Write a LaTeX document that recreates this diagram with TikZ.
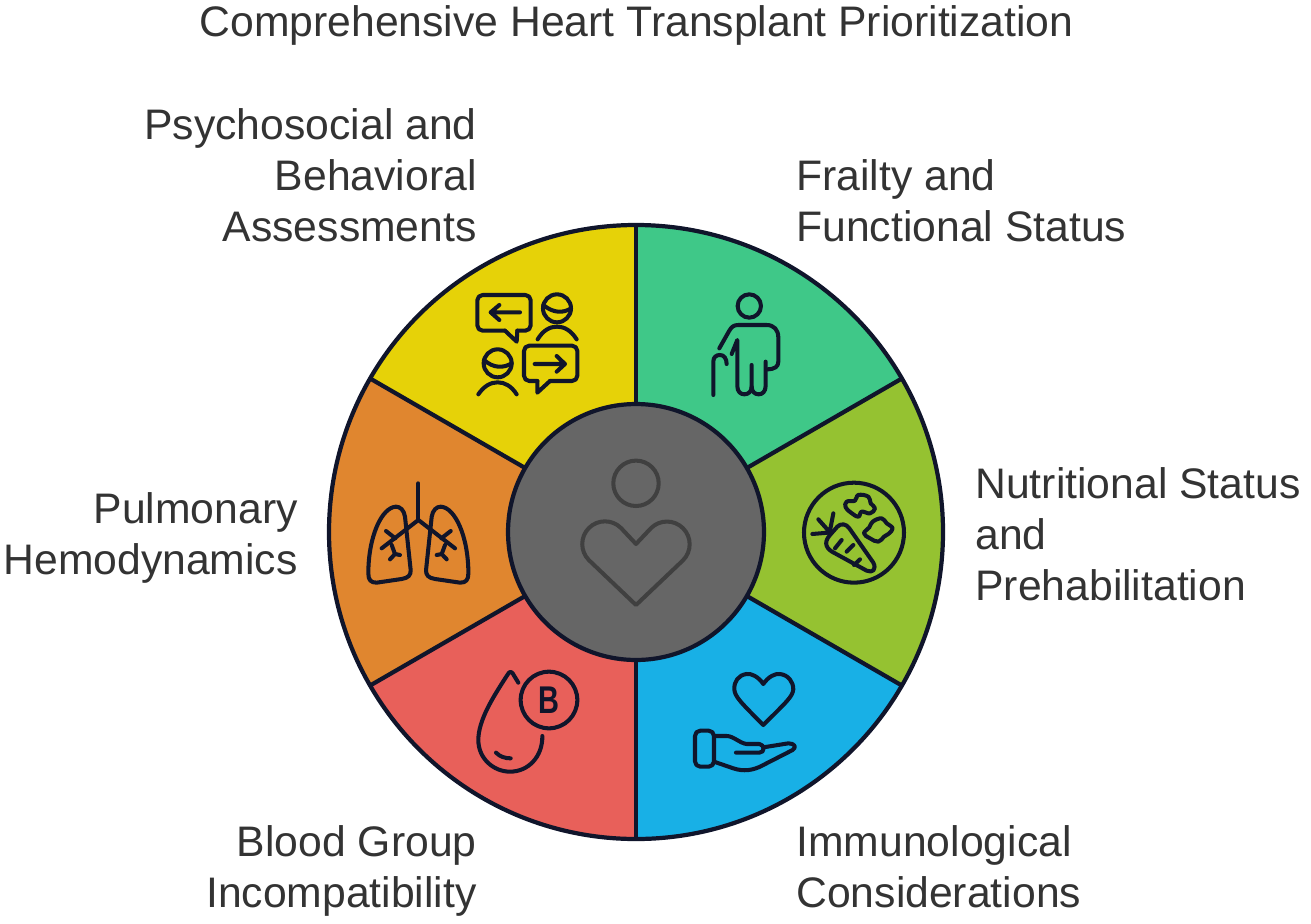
\documentclass[tikz,border=0pt]{standalone}
\usepackage{fontspec}
\setmainfont{Liberation Sans}
\definecolor{inkc}{HTML}{10152B}
\definecolor{textc}{HTML}{333333}
\definecolor{hubc}{HTML}{666666}
\definecolor{yellowc}{HTML}{E6D208}
\definecolor{greenc}{HTML}{3FC888}
\definecolor{limec}{HTML}{95C231}
\definecolor{bluec}{HTML}{18B0E6}
\definecolor{redc}{HTML}{E8605A}
\definecolor{orangec}{HTML}{E0862F}
\newcommand{\lunghalf}{%
  \draw[icon] (165,200) .. controls (162,180) and (150,170) .. (138,170)
    .. controls (95,172) and (55,260) .. (55,370) .. controls (55,390) and (62,398) .. (80,398)
    -- (155,387) .. controls (175,384) and (183,375) .. (182,360) -- cycle;
  \draw[icon] (205,210) -- (95,295);
  \draw[icon] (108,243) -- (136,265);
  \draw[icon] (125,285) -- (135,312) -- (120,328) (135,312) -- (150,315);}
\begin{document}
\begin{tikzpicture}[x=0.02cm,y=-0.02cm,
  every node/.style = {text=textc, inner sep=0pt, font=\fontsize{24.3}{29}\selectfont},
  icon/.style = {draw=inkc, line width=2.3pt, line cap=round, line join=round},
  toleft/.style = {align=left, anchor=west},
  toright/.style = {align=right, anchor=east},
  zoomed/.style = {shift={#1}, scale=0.3333}]
  \useasboundingbox (0,0) rectangle (1311,923);
  \coordinate (c) at (636,532);
  % sectors
  \foreach \ang/\col in {-90/greenc, -30/limec, 30/bluec, 90/redc, 150/orangec, 210/yellowc}
    \fill[\col] (c) -- ++(\ang:307) arc (\ang:\ang+60:307) -- cycle;
  \foreach \ang in {-90, -30, 30, 90, 150, 210}
    \draw[inkc, line width=2.4pt] (c) -- ++(\ang:307);
  \draw[inkc, line width=2.4pt] (c) circle (307);
  \node (hub) [circle, draw=inkc, line width=2.4pt, fill=hubc, minimum size=5.12cm] at (c) {};
  % hub icon
  \draw[icon, draw=black!75] (636,483.3) circle (22.7);
  \draw[icon, draw=black!75] (636,544) -- (621,528) arc (-45:-225:22.7)
    -- (636,605) -- (683,560.3) arc (45:-135:22.7) -- cycle;
  % people talking
  \begin{scope}[zoomed={(460,280)}]
    \draw[icon, rounded corners=3pt] (135,152) -- (52,152) -- (52,45) -- (212,45) -- (212,152) -- (172,152);
    \draw[icon] (135,152) -- (170,185) -- (172,152);
    \draw[icon] (180,97) -- (92,97) (118,75) -- (92,97) -- (118,120);
    \draw[icon] (291,85) circle (42);
    \draw[icon] (250,75) .. controls (280,100) and (310,100) .. (333,85);
    \draw[icon] (233,178) .. controls (250,150) and (270,140) .. (291,140) .. controls (312,140) and (332,150) .. (350,178);
    \draw[icon] (113,250) circle (42);
    \draw[icon] (72,240) .. controls (100,265) and (130,265) .. (155,250);
    \draw[icon] (55,343) .. controls (72,318) and (92,307) .. (113,307) .. controls (134,307) and (154,318) .. (170,343);
    \draw[icon, rounded corners=3pt] (232,303) -- (192,303) -- (192,197) -- (352,197) -- (352,303) -- (270,303);
    \draw[icon] (232,303) -- (232,338) -- (270,303);
    \draw[icon] (224,252) -- (315,252) (290,228) -- (315,252) -- (290,275);
    % person with cane
    \draw[icon] (868,78) circle (35);
    \draw[icon] (778,205) -- (808,152) .. controls (815,140) and (822,135) .. (835,135) -- (920,135)
      .. controls (942,135) and (955,150) .. (955,172) -- (955,245) .. controls (955,260) and (945,268) .. (920,268);
    \draw[icon] (815,222) -- (832,180) -- (832,318) .. controls (832,335) and (842,343) .. (853,343)
      .. controls (865,343) and (875,335) .. (875,320) -- (875,255);
    \draw[icon] (875,320) .. controls (875,335) and (885,343) .. (896,343) .. controls (907,343) and (917,335) .. (917,318) -- (917,245);
    \draw[icon] (760,345) -- (760,245) .. controls (760,230) and (770,225) .. (780,225) .. controls (792,225) and (800,235) .. (800,252);
  \end{scope}
  % lungs
  \begin{scope}[zoomed={(350,450)}]
    \lunghalf
    \draw[icon] (205,100) -- (205,210);
  \end{scope}
  \begin{scope}[shift={(836.7,0)}, xscale=-1]
    \begin{scope}[zoomed={(350,450)}]
      \lunghalf
    \end{scope}
  \end{scope}
  % carrot plate
  \begin{scope}[zoomed={(780,470)}]
    \draw[icon] (222,188) circle (150);
    \draw[icon] (150,195) -- (172,170) .. controls (182,160) and (198,160) .. (208,175) -- (280,278)
      .. controls (290,298) and (278,310) .. (260,302) -- (165,250) .. controls (140,238) and (128,220) .. (150,195);
    \draw[icon] (148,185) -- (115,148) (145,188) -- (97,192) (160,130) -- (150,182);
    \draw[icon] (185,210) -- (165,235) (220,225) -- (200,245) (240,268) -- (222,285);
    \draw[icon] plot[smooth cycle, tension=0.7] coordinates {(200,95) (225,92) (235,75) (265,80) (272,100) (285,115) (270,130) (245,125) (235,140) (213,128) (197,112)};
    \draw[icon] plot[smooth cycle, tension=0.7] coordinates {(252,190) (268,172) (278,155) (305,145) (320,160) (338,175) (325,192) (312,200) (295,215) (270,205)};
  \end{scope}
  % drop and hand
  \begin{scope}[zoomed={(470,660)}]
    \draw[icon] (145,68) -- (128,40) .. controls (122,33) and (118,35) .. (112,45)
      .. controls (70,110) and (25,180) .. (25,240) .. controls (25,295) and (70,335) .. (120,335)
      .. controls (175,335) and (218,290) .. (217,228);
    \draw[icon] (78,278) .. controls (90,290) and (105,295) .. (122,295);
    \draw[icon] (237,120) circle (85);
    \node (btype) at (237,122) [text=inkc, font=\fontsize{22}{22}\selectfont\bfseries] {\scalebox{0.75}[1]{B}};
    \draw[icon] (880,72) .. controls (865,50) and (845,40) .. (830,42) .. controls (805,45) and (792,65) .. (793,88)
      .. controls (795,110) and (810,125) .. (880,195) .. controls (950,125) and (968,110) .. (970,88)
      .. controls (970,65) and (955,45) .. (930,42) .. controls (915,40) and (895,50) .. (880,72) -- cycle;
    \draw[icon, rounded corners=3pt] (675,212) rectangle (732,320);
    \draw[icon] (732,228) -- (770,228) .. controls (790,228) and (810,250) .. (830,252) -- (868,252)
      .. controls (885,254) and (885,278) .. (868,278) -- (798,278);
    \draw[icon] (880,262) -- (955,250) .. controls (975,250) and (980,262) .. (968,270)
      -- (880,315) .. controls (850,332) and (820,335) .. (790,325) -- (732,305);
  \end{scope}
  % labels
  \node (title) at (636.5,25) {Comprehensive Heart Transplant Prioritization};
  \node (psycho) [toright] at (477,175) {Psychosocial and\\Behavioral\\Assessments};
  \node (frailty) [toleft] at (796,201) {Frailty and\\Functional Status};
  \node (nutrition) [toleft] at (975,534) {Nutritional Status\\and\\Prehabilitation};
  \node (immuno) [toleft] at (796,867) {Immunological\\Considerations};
  \node (blood) [toright] at (477,871) {Blood Group\\Incompatibility};
  \node (pulmonary) [toright] at (298,538) {Pulmonary\\Hemodynamics};
\end{tikzpicture}
\end{document}
